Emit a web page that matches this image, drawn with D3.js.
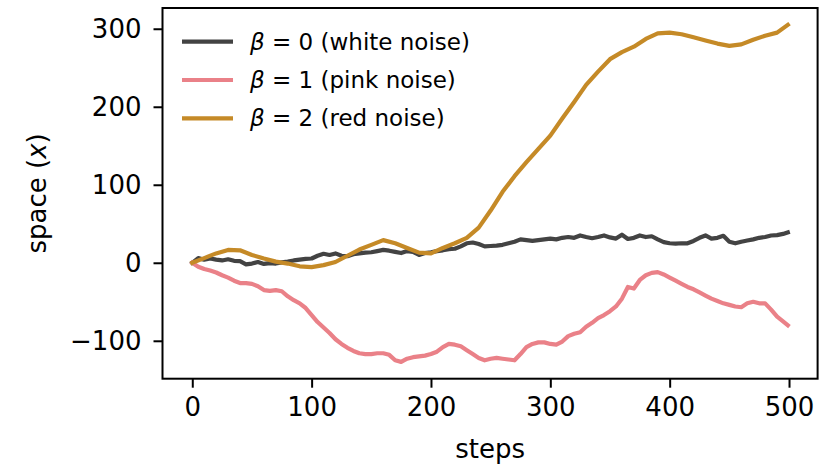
<!DOCTYPE html>
<html>
<head>
<meta charset="utf-8">
<script src="https://cdn.jsdelivr.net/npm/d3@7"></script>
<style>
  body { margin: 0; background: #fff; }
  svg text { font-family: "DejaVu Sans", sans-serif; fill: #000; }
</style>
</head>
<body>
<svg id="chart"></svg>
<script>
const width = 825, height = 470
const margin = {left: 162.5, right: 7.4, top: 8, bottom: 91.3}

// step positions (every 5 steps for the rough walks, every 10 for the smooth one)
const fineSteps = d3.range(0, 500, 5).concat([499])
const coarseSteps = d3.range(0, 500, 10).concat([499])

// beta = 0 (white noise)
const whiteValues = [
  0, 6, 4, 5.5, 4, 3, 4.5, 2.5, 2, -2,
  -1, 1, -1.5, -0.5, -1, 0.5, 1.5, 3, 4, 5,
  5.5, 9, 11.5, 10, 12, 9, 8.5, 11, 12, 13,
  13.5, 15, 16.5, 15.5, 14, 12.5, 15, 14, 10, 12.5,
  13.5, 15, 16, 17.5, 18, 21, 25, 26, 24, 21,
  21.5, 22, 23, 25, 27, 30, 29, 28, 29, 30,
  31, 30, 32, 33, 32, 35, 33, 31.5, 33, 35,
  32.5, 31, 36, 30.5, 32, 35, 33, 34, 30, 26.5,
  25, 24.5, 25, 25, 28, 32, 35, 31, 32, 34.5,
  27, 25, 27, 28.5, 30, 32, 33, 35, 35.5, 37, 39
]

// beta = 1 (pink noise)
const pinkValues = [
  0, -5, -8, -10, -12.5, -16, -19, -23, -26, -26,
  -27, -30, -35, -36, -35, -36.5, -43, -48, -52, -58,
  -67, -76, -83, -90, -98, -104, -109, -113, -116, -117,
  -117, -116, -116, -118, -125, -127, -123, -121, -120, -119,
  -117, -114, -108, -104, -105, -107, -112, -117, -122, -125,
  -123, -122, -123, -124, -125, -117, -108, -104, -102, -102,
  -104, -105, -101, -94, -91, -89, -82, -77, -71, -67,
  -62, -56, -46, -31, -33, -22, -16, -13, -12, -15,
  -19, -23, -27, -31, -34, -38, -42, -46, -49, -52,
  -54, -56, -57, -52, -50, -52, -52, -60, -69, -75, -80
]

// beta = 2 (red noise)
const redValues = [
  0, 6, 12, 16.5, 16, 10, 5.5, 1.5, -1, -4.5,
  -5.5, -3, 1, 9, 17, 23, 29, 25, 19, 13,
  12, 19, 25, 32, 45, 67, 91, 111, 129, 146,
  163, 185, 206, 228, 245, 261, 270, 277, 287, 294,
  295, 293, 289, 285, 281, 278, 280, 286, 291, 295,
  305
]

const seriesNames = ['β = 0 (white noise)', 'β = 1 (pink noise)', 'β = 2 (red noise)']
const seriesColors = ['#434343', '#ea8188', '#c58a27']

const series = [
  {steps: fineSteps, values: whiteValues},
  {steps: fineSteps, values: pinkValues},
  {steps: coarseSteps, values: redValues}
].map((s, i) => ({
  name: seriesNames[i],
  color: seriesColors[i],
  points: s.steps.map((x, j) => ({x, y: s.values[j]}))
}))

const svg = d3.select('#chart')
  .attr('width', width)
  .attr('height', height)

// matplotlib-style 5% padding around the data
const allPts = series.flatMap(s => s.points)
const [x0, x1] = d3.extent(allPts, d => d.x)
const [y0, y1] = d3.extent(allPts, d => d.y)
const xPad = (x1 - x0) * 0.05, yPad = (y1 - y0) * 0.05

const x = d3.scaleLinear()
  .domain([x0 - xPad, x1 + xPad])
  .range([margin.left, width - margin.right])
const y = d3.scaleLinear()
  .domain([y0 - yPad, y1 + yPad])
  .range([height - margin.bottom, margin.top])

const line = d3.line()
  .x(d => x(d.x))
  .y(d => y(d.y))

svg.append('g')
  .selectAll('path')
  .data(series)
  .join('path')
  .attr('d', d => line(d.points))
  .attr('fill', 'none')
  .attr('stroke', d => d.color)
  .attr('stroke-width', 4.2)
  .attr('stroke-linejoin', 'round')
  .attr('stroke-linecap', 'square')

const xAxis = svg.append('g')
  .attr('transform', `translate(0, ${height - margin.bottom})`)
  .call(d3.axisBottom(x).tickValues([0, 100, 200, 300, 400, 500]).tickSize(9).tickPadding(10))
const yAxis = svg.append('g')
  .attr('transform', `translate(${margin.left}, 0)`)
  .call(d3.axisLeft(y).tickValues([-100, 0, 100, 200, 300]).tickSize(9).tickPadding(12))

for (const ax of [xAxis, yAxis]) {
  ax.select('.domain').remove()
  ax.selectAll('.tick line').attr('stroke', '#000').attr('stroke-width', 2)
  ax.selectAll('.tick text').attr('font-size', 26).attr('font-family', '"DejaVu Sans"').attr('fill', '#000')
}

// frame
svg.append('rect')
  .attr('x', margin.left)
  .attr('y', margin.top)
  .attr('width', width - margin.left - margin.right)
  .attr('height', height - margin.top - margin.bottom)
  .attr('fill', 'none')
  .attr('stroke', '#000')
  .attr('stroke-width', 2)

// axis labels
svg.append('text')
  .attr('x', (margin.left + width - margin.right) / 2)
  .attr('y', 458)
  .attr('text-anchor', 'middle')
  .attr('font-size', 26)
  .text('steps')

const yLab = svg.append('text')
  .attr('transform', `translate(46, ${(margin.top + height - margin.bottom) / 2}) rotate(-90)`)
  .attr('text-anchor', 'middle')
  .attr('font-size', 26)
yLab.append('tspan').text('space (')
yLab.append('tspan').attr('font-style', 'italic').text('x')
yLab.append('tspan').text(')')

// legend
const legend = svg.append('g')
  .selectAll('g')
  .data(series)
  .join('g')
  .attr('transform', (d, i) => `translate(182, ${41.7 + i * 38.3})`)

legend.append('line')
  .attr('x1', 0).attr('x2', 51)
  .attr('stroke', d => d.color)
  .attr('stroke-width', 4.2)

const lt = legend.append('text')
  .attr('x', 68)
  .attr('y', 8)
  .attr('font-size', 23)
lt.append('tspan').attr('font-style', 'italic').text('β')
lt.append('tspan').text(d => d.name.slice(1))
</script>
</body>
</html>
